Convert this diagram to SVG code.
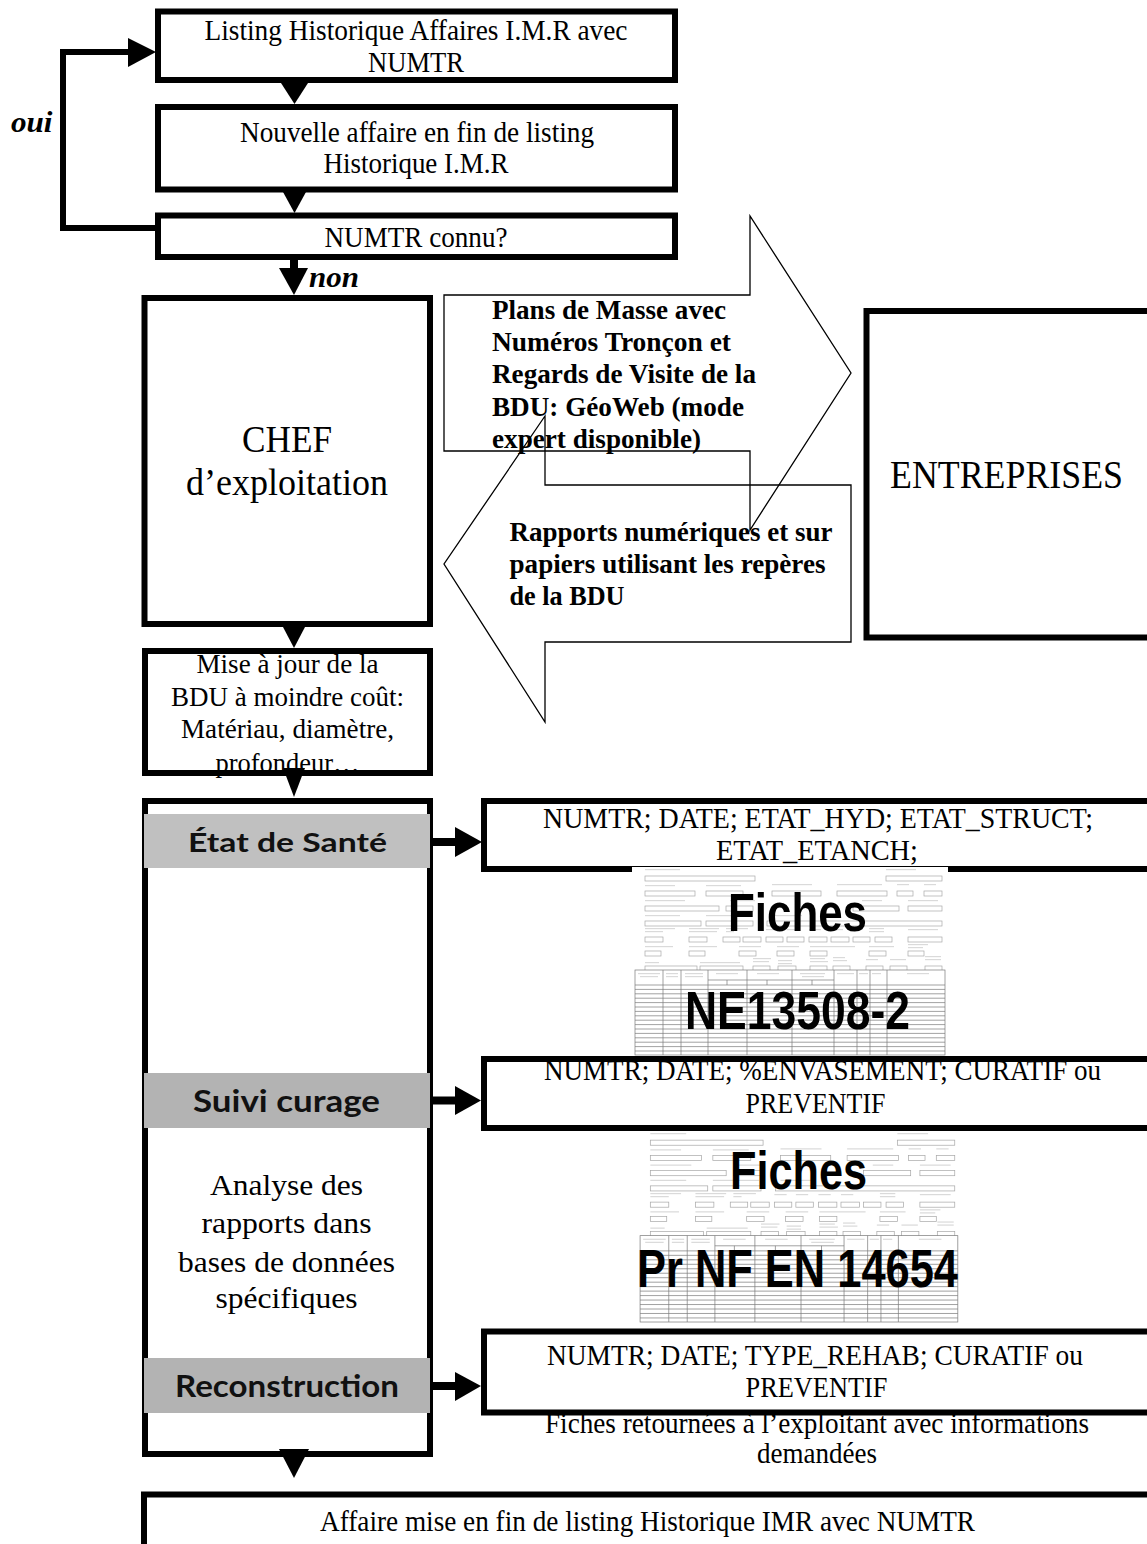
<svg xmlns="http://www.w3.org/2000/svg" xmlns:xlink="http://www.w3.org/1999/xlink" width="1147" height="1544" viewBox="0 0 1147 1544">
  <style>
    .bg { fill: #fff; stroke: none; }
    .frame { fill: none; stroke: #000; stroke-width: 6; }
    .thin { fill: none; stroke: #000; stroke-width: 1.3; stroke-linejoin: miter; }
    .serif { font-family: "Liberation Serif", "Times New Roman", serif; fill: #000; }
    .sb { font-weight: bold; }
    .bi { font-weight: bold; font-style: italic; }
    .band { font-family: Lato, "Liberation Sans", Arial, sans-serif; font-weight: bold; fill: #111; }
    .big { font-family: "Liberation Sans Narrow", "Liberation Sans", Arial, sans-serif; font-weight: bold; fill: #000; }
    .c { text-anchor: middle; }
    .head { fill: #000; stroke: none; }
    .link { fill: none; stroke: #000; stroke-width: 6; }
    .shaft { stroke: #000; stroke-width: 8; }
    .lbl { fill: #dadada; }
    .fld { fill: none; stroke: #a8a8a8; stroke-width: 0.7; }
    .tbl { fill: none; stroke: #7a7a7a; stroke-width: 0.7; }
  </style>
  <defs>
    <!-- miniature of an inspection sheet: header fields on top, observation table below -->
    <g id="sheet">
      <rect x="0" y="0" width="316" height="188" fill="#fff"/>
      <!-- label placeholders -->
      <g class="lbl">
        <rect x="13" y="2" width="35" height="1.2"/><rect x="254" y="2" width="30" height="1.2"/>
        <rect x="13" y="18" width="30" height="1.2"/><rect x="74" y="18" width="35" height="1.2"/><rect x="140" y="17" width="40" height="1.2"/><rect x="205" y="17" width="45" height="1.2"/><rect x="265" y="17" width="12" height="1.2"/><rect x="292" y="17" width="12" height="1.2"/>
        <rect x="13" y="33" width="40" height="1.2"/><rect x="98" y="33" width="25" height="1.2"/><rect x="230" y="33" width="20" height="1.2"/><rect x="276" y="33" width="30" height="1.2"/>
        <rect x="13" y="48" width="35" height="1.2"/><rect x="74" y="48" width="45" height="1.2"/><rect x="140" y="48" width="30" height="1.2"/>
        <rect x="13" y="61" width="30" height="1.2"/><rect x="13" y="64" width="18" height="1.2"/><rect x="57" y="61" width="30" height="1.2"/><rect x="57" y="64" width="28" height="1.2"/><rect x="94" y="61" width="22" height="1.2"/><rect x="94" y="64" width="8" height="1.2"/><rect x="134" y="62" width="12" height="1.2"/><rect x="155" y="62" width="12" height="1.2"/><rect x="177" y="62" width="12" height="1.2"/><rect x="199" y="62" width="12" height="1.2"/><rect x="237" y="61" width="15" height="1.2"/><rect x="237" y="64" width="15" height="1.2"/><rect x="276" y="62" width="30" height="1.2"/>
        <rect x="13" y="79" width="28" height="1.2"/><rect x="57" y="79" width="28" height="1.2"/><rect x="107" y="79" width="22" height="1.2"/><rect x="145" y="79" width="22" height="1.2"/><rect x="178" y="79" width="45" height="1.2"/><rect x="237" y="79" width="25" height="1.2"/><rect x="276" y="77" width="20" height="1.2"/><rect x="276" y="80" width="15" height="1.2"/>
        <rect x="13" y="95" width="14" height="1.2"/><rect x="68" y="95" width="40" height="1.2"/><rect x="121" y="91" width="18" height="1.2"/><rect x="121" y="94" width="16" height="1.2"/><rect x="146" y="93" width="14" height="1.2"/><rect x="146" y="96" width="14" height="1.2"/><rect x="178" y="91" width="15" height="1.2"/><rect x="178" y="94" width="18" height="1.2"/><rect x="201" y="90" width="12" height="1.2"/><rect x="201" y="93" width="14" height="1.2"/><rect x="234" y="92" width="12" height="1.2"/><rect x="258" y="92" width="16" height="1.2"/><rect x="293" y="89" width="16" height="1.2"/><rect x="293" y="92" width="16" height="1.2"/>
      </g>
      <!-- entry fields -->
      <g class="fld">
        <rect x="13" y="9" width="110" height="5"/><rect x="254" y="9" width="56" height="5"/>
        <rect x="13" y="24" width="50" height="5"/><rect x="74" y="24" width="37" height="5"/><rect x="140" y="24" width="49" height="5"/><rect x="205" y="24" width="50" height="5"/><rect x="265" y="24" width="16" height="5"/><rect x="292" y="24" width="18" height="5"/>
        <rect x="13" y="39" width="74" height="5"/><rect x="94" y="39" width="27" height="5"/><rect x="221" y="39" width="46" height="5"/><rect x="276" y="39" width="34" height="5"/>
        <rect x="13" y="54" width="56" height="5"/><rect x="74" y="54" width="47" height="5"/><rect x="135" y="54" width="175" height="5"/>
        <rect x="13" y="70" width="18" height="5"/><rect x="57" y="70" width="18" height="5"/><rect x="91" y="70" width="17" height="5"/><rect x="111" y="70" width="18" height="5"/><rect x="134" y="70" width="17" height="5"/><rect x="155" y="70" width="17" height="5"/><rect x="177" y="70" width="18" height="5"/><rect x="199" y="70" width="18" height="5"/><rect x="221" y="70" width="17" height="5"/><rect x="243" y="70" width="17" height="5"/><rect x="276" y="70" width="34" height="5"/>
        <rect x="13" y="84" width="16" height="5"/><rect x="57" y="84" width="16" height="5"/><rect x="107" y="84" width="17" height="5"/><rect x="145" y="84" width="17" height="5"/><rect x="178" y="84" width="17" height="5"/><rect x="237" y="84" width="17" height="5"/><rect x="276" y="84" width="16" height="5"/>
        <rect x="13" y="99" width="52" height="5"/><rect x="68" y="99" width="43" height="5"/><rect x="121" y="99" width="17" height="5"/><rect x="146" y="99" width="18" height="5"/><rect x="178" y="99" width="17" height="5"/><rect x="201" y="99" width="17" height="5"/><rect x="234" y="99" width="17" height="5"/><rect x="258" y="99" width="17" height="5"/><rect x="293" y="99" width="17" height="5"/>
      </g>
      <!-- observation table -->
      <rect x="3" y="103" width="310" height="85" fill="#fff"/>
      <g class="lbl">
        <rect x="6" y="106" width="22" height="1.2"/><rect x="8" y="109" width="18" height="1.2"/><rect x="34" y="106" width="12" height="1.2"/><rect x="34" y="109" width="12" height="1.2"/><rect x="53" y="106" width="18" height="1.2"/><rect x="53" y="109" width="18" height="1.2"/><rect x="84" y="106" width="22" height="1.2"/><rect x="125" y="106" width="22" height="1.2"/><rect x="168" y="106" width="25" height="1.2"/><rect x="170" y="109" width="22" height="1.2"/><rect x="205" y="106" width="17" height="1.2"/><rect x="227" y="106" width="9" height="1.2"/><rect x="240" y="106" width="9" height="1.2"/><rect x="275" y="106" width="22" height="1.2"/>
      </g>
      <rect class="tbl" x="3" y="103" width="310" height="85"/>
      <path class="tbl" d="M3 118H313M76 113H202M31 103V188M49 103V188M76 103V188M115 103V188M160 103V188M202 103V188M225 103V188M238 103V188M255 103V188M95 113V118M135 113V118M180 113V118M3 122.4H313M3 126.8H313M3 131.2H313M3 135.6H313M3 140H313M3 144.4H313M3 148.8H313M3 153.2H313M3 157.6H313M3 162H313M3 166.4H313M3 170.8H313M3 175.2H313M3 179.6H313M3 184H313"/>
    </g>
  </defs>

  <!-- ===== upper loop ===== -->
  <g id="node-listing">
    <rect class="bg" x="158" y="11.5" width="517" height="68.5"/>
    <text class="serif c" x="416" y="40" font-size="29" textLength="423" lengthAdjust="spacingAndGlyphs">Listing Historique Affaires I.M.R avec</text>
    <text class="serif c" x="416" y="72" font-size="29" textLength="96" lengthAdjust="spacingAndGlyphs">NUMTR</text>
    <rect class="frame" x="158" y="11.5" width="517" height="68.5"/>
  </g>
  <g id="node-nouvelle">
    <rect class="bg" x="158" y="107" width="517" height="82.5"/>
    <text class="serif c" x="417" y="141.5" font-size="29" textLength="354" lengthAdjust="spacingAndGlyphs">Nouvelle affaire en fin de listing</text>
    <text class="serif c" x="416" y="173" font-size="29" textLength="185" lengthAdjust="spacingAndGlyphs">Historique I.M.R</text>
    <rect class="frame" x="158" y="107" width="517" height="82.5"/>
  </g>
  <g id="node-connu">
    <rect class="bg" x="158" y="215.5" width="517" height="41.5"/>
    <text class="serif c" x="416" y="246.5" font-size="29" textLength="183" lengthAdjust="spacingAndGlyphs">NUMTR connu?</text>
    <rect class="frame" x="158" y="215.5" width="517" height="41.5"/>
  </g>

  <!-- ===== left column ===== -->
  <g id="node-chef">
    <rect class="bg" x="144.5" y="298" width="285.5" height="326"/>
    <text class="serif c" x="287" y="451.7" font-size="37" textLength="90" lengthAdjust="spacingAndGlyphs">CHEF</text>
    <text class="serif c" x="287" y="495" font-size="37" textLength="202" lengthAdjust="spacingAndGlyphs">d’exploitation</text>
    <rect class="frame" x="144.5" y="298" width="285.5" height="326"/>
  </g>
  <g id="node-miseajour">
    <rect class="bg" x="145" y="651" width="285" height="122"/>
    <text class="serif c" x="287.5" y="673" font-size="28" textLength="182" lengthAdjust="spacingAndGlyphs">Mise à jour de la</text>
    <text class="serif c" x="287.5" y="706" font-size="28" textLength="233" lengthAdjust="spacingAndGlyphs">BDU à moindre coût:</text>
    <text class="serif c" x="287.5" y="738" font-size="28" textLength="213" lengthAdjust="spacingAndGlyphs">Matériau, diamètre,</text>
    <text class="serif c" x="287.5" y="772" font-size="28" textLength="144" lengthAdjust="spacingAndGlyphs">profondeur…</text>
    <rect class="frame" x="145" y="651" width="285" height="122"/>
  </g>
  <g id="node-analyse">
    <rect class="bg" x="145" y="801" width="285" height="653"/>
    <rect class="frame" x="145" y="801" width="285" height="653"/>
    <rect x="144" y="814" width="286" height="54" fill="#c0c0c0"/>
    <text class="band c" x="287.5" y="852" font-size="26.5" textLength="199" lengthAdjust="spacingAndGlyphs">État de Santé</text>
    <rect x="144" y="1073" width="286" height="55" fill="#b3b3b3"/>
    <text class="band c" x="286.5" y="1112" font-size="31" textLength="187" lengthAdjust="spacingAndGlyphs">Suivi curage</text>
    <text class="serif c" x="286.5" y="1195" font-size="30" textLength="153" lengthAdjust="spacingAndGlyphs">Analyse des</text>
    <text class="serif c" x="286.5" y="1233" font-size="30" textLength="170" lengthAdjust="spacingAndGlyphs">rapports dans</text>
    <text class="serif c" x="286.5" y="1272" font-size="30" textLength="217" lengthAdjust="spacingAndGlyphs">bases de données</text>
    <text class="serif c" x="286.5" y="1308" font-size="30" textLength="142" lengthAdjust="spacingAndGlyphs">spécifiques</text>
    <rect x="144" y="1358" width="286" height="55" fill="#b3b3b3"/>
    <text class="band c" x="287" y="1397" font-size="31" textLength="224" lengthAdjust="spacingAndGlyphs">Reconstruction</text>
  </g>
  <g id="node-final">
    <rect class="bg" x="144" y="1494.5" width="1100" height="100"/>
    <text class="serif c" x="647.5" y="1531" font-size="29" textLength="655" lengthAdjust="spacingAndGlyphs">Affaire mise en fin de listing Historique IMR avec NUMTR</text>
    <rect class="frame" x="144" y="1494.5" width="1100" height="100" stroke-width="6.5"/>
  </g>

  <!-- ===== exchanges with the contractors ===== -->
  <g id="node-plans">
    <polygon class="thin" points="444,295 750,295 750,216 851,373 750,530 750,451 444,451"/>
    <text class="serif sb" x="492" y="318.5" font-size="28" textLength="234" lengthAdjust="spacingAndGlyphs">Plans de Masse avec</text>
    <text class="serif sb" x="492" y="350.7" font-size="28" textLength="239" lengthAdjust="spacingAndGlyphs">Numéros Tronçon et</text>
    <text class="serif sb" x="492" y="383" font-size="28" textLength="264" lengthAdjust="spacingAndGlyphs">Regards de Visite de la</text>
    <text class="serif sb" x="492" y="415.7" font-size="28" textLength="252" lengthAdjust="spacingAndGlyphs">BDU: GéoWeb (mode</text>
    <text class="serif sb" x="492" y="448" font-size="28" textLength="209" lengthAdjust="spacingAndGlyphs">expert disponible)</text>
  </g>
  <g id="node-rapports">
    <polygon class="thin" points="851,485 545,485 545,416 444,564 545,722 545,642 851,642"/>
    <text class="serif sb" x="509.5" y="540.7" font-size="28" textLength="323" lengthAdjust="spacingAndGlyphs">Rapports numériques et sur</text>
    <text class="serif sb" x="509.5" y="573" font-size="28" textLength="316" lengthAdjust="spacingAndGlyphs">papiers utilisant les repères</text>
    <text class="serif sb" x="509.5" y="605" font-size="28" textLength="115" lengthAdjust="spacingAndGlyphs">de la BDU</text>
  </g>
  <g id="node-entreprises">
    <rect class="bg" x="866.5" y="311" width="300" height="326.5"/>
    <text class="serif" x="890" y="488" font-size="40" textLength="233" lengthAdjust="spacingAndGlyphs">ENTREPRISES</text>
    <rect class="frame" x="866.5" y="311" width="300" height="326.5" stroke-width="7"/>
  </g>

  <!-- ===== records filled in per topic ===== -->
  <g id="node-etat-record">
    <rect class="bg" x="484" y="801" width="700" height="68"/>
    <text class="serif c" x="818" y="828" font-size="29" textLength="550" lengthAdjust="spacingAndGlyphs">NUMTR; DATE; ETAT_HYD; ETAT_STRUCT;</text>
    <text class="serif c" x="817" y="860" font-size="29" textLength="202" lengthAdjust="spacingAndGlyphs">ETAT_ETANCH;</text>
    <rect class="frame" x="484" y="801" width="700" height="68" stroke-width="6.5"/>
  </g>
  <g id="node-fiches-ne13508">
    <use xlink:href="#sheet" href="#sheet" transform="translate(632,867)"/>
    <text class="big c" x="797.5" y="931" font-size="53" textLength="139" lengthAdjust="spacingAndGlyphs">Fiches</text>
    <text class="big c" x="797.5" y="1029" font-size="53" textLength="225" lengthAdjust="spacingAndGlyphs">NE13508-2</text>
  </g>
  <g id="node-curage-record">
    <rect class="bg" x="484" y="1059" width="700" height="69"/>
    <text class="serif c" x="822.5" y="1080" font-size="29" textLength="557" lengthAdjust="spacingAndGlyphs">NUMTR; DATE; %ENVASEMENT; CURATIF ou</text>
    <text class="serif c" x="815.5" y="1113" font-size="29" textLength="140" lengthAdjust="spacingAndGlyphs">PREVENTIF</text>
    <rect class="frame" x="484" y="1059" width="700" height="69" stroke-width="6.5"/>
  </g>
  <g id="node-fiches-en14654">
    <use xlink:href="#sheet" href="#sheet" transform="translate(637,1131) scale(1.025,1.016)"/>
    <text class="big c" x="798.5" y="1189" font-size="53" textLength="137" lengthAdjust="spacingAndGlyphs">Fiches</text>
    <text class="big c" x="797.5" y="1287" font-size="53" textLength="321" lengthAdjust="spacingAndGlyphs">Pr NF EN 14654</text>
  </g>
  <g id="node-rehab-record">
    <rect class="bg" x="484" y="1331.5" width="700" height="81"/>
    <text class="serif c" x="815" y="1365" font-size="29" textLength="536" lengthAdjust="spacingAndGlyphs">NUMTR; DATE; TYPE_REHAB; CURATIF ou</text>
    <text class="serif c" x="816.5" y="1397" font-size="29" textLength="142" lengthAdjust="spacingAndGlyphs">PREVENTIF</text>
    <rect class="frame" x="484" y="1331.5" width="700" height="81" stroke-width="6.5"/>
  </g>
  <g id="node-retour">
    <text class="serif c" x="817" y="1433" font-size="29" textLength="544" lengthAdjust="spacingAndGlyphs">Fiches retournées à l’exploitant avec informations</text>
    <text class="serif c" x="817" y="1463" font-size="29" textLength="120" lengthAdjust="spacingAndGlyphs">demandées</text>
  </g>

  <!-- ===== connectors ===== -->
  <g id="connectors">
    <!-- oui: back to the listing -->
    <polyline class="link" points="158,228 63,228 63,52 130,52"/>
    <polygon class="head" points="128,38 156,52 128,67"/>
    <text class="serif bi" x="11" y="131.7" font-size="30" textLength="41.5" lengthAdjust="spacingAndGlyphs">oui</text>
    <!-- main flow -->
    <polygon class="head" points="281,83 308,83 294.5,104"/>
    <polygon class="head" points="283,192 306,192 294.5,213"/>
    <line class="shaft" x1="294" y1="259" x2="294" y2="269"/>
    <polygon class="head" points="279,268 308,268 294,295"/>
    <text class="serif bi" x="309" y="286.7" font-size="30" textLength="50" lengthAdjust="spacingAndGlyphs">non</text>
    <polygon class="head" points="283,627 305,627 294,648"/>
    <polygon class="head" points="283,768 305,768 294,797"/>
    <polygon class="head" points="279,1449 309,1449 294,1478"/>
    <!-- topic to record -->
    <line class="shaft" x1="430" y1="842" x2="457" y2="842"/>
    <polygon class="head" points="455,827 482,842 455,857"/>
    <line class="shaft" x1="430" y1="1100.5" x2="457" y2="1100.5"/>
    <polygon class="head" points="455,1086 481,1100.5 455,1115"/>
    <line class="shaft" x1="430" y1="1386" x2="457" y2="1386"/>
    <polygon class="head" points="455,1372 481,1386 455,1401"/>
  </g>
</svg>
